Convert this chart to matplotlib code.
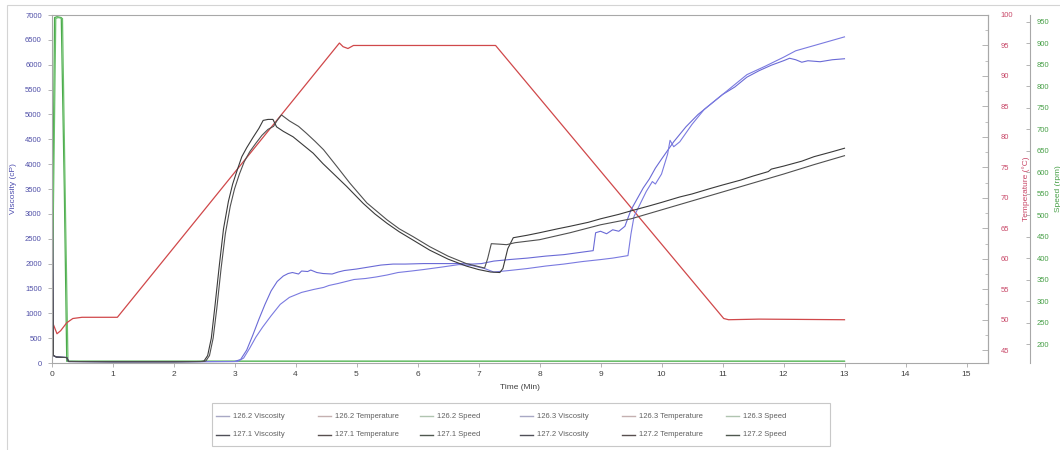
import matplotlib
matplotlib.use('Agg')
import matplotlib.pyplot as plt
from matplotlib.lines import Line2D
from matplotlib.patches import Rectangle
from matplotlib.ticker import MultipleLocator

plt.rcParams['font.family'] = ['Liberation Sans', 'DejaVu Sans']

# ---------------- data ----------------
# viscosity (cP) vs time (min)
t_1271 = [0, 0.03, 0.08, 0.25, 0.28, 1.0, 2.0, 2.45, 2.5, 2.56, 2.62, 2.68, 2.75, 2.82, 2.9, 2.97,
          3.05, 3.12, 3.2, 3.3, 3.4, 3.47, 3.55, 3.63, 3.69, 3.8, 3.96, 4.12, 4.29, 4.45, 4.62, 4.84,
          5.11, 5.3, 5.5, 5.7, 5.93, 6.2, 6.5, 6.8, 7.0, 7.2, 7.35, 7.4, 7.48, 7.57, 7.8, 8.0, 8.3,
          8.5, 8.8, 9.0, 9.3, 9.5, 9.8, 10.0, 10.3, 10.5, 10.8, 11.0, 11.3, 11.5, 11.75, 11.8, 12.0,
          12.3, 12.5, 12.8, 13.0]
v_1271 = [6900, 150, 120, 110, 30, 25, 25, 30, 40, 150, 500, 1150, 1950, 2700, 3250, 3600,
          3900, 4150, 4330, 4530, 4720, 4880, 4900, 4900, 4750, 4660, 4550, 4390, 4220, 4010, 3810, 3550,
          3210, 3000, 2810, 2640, 2470, 2270, 2090, 1950, 1880, 1830, 1820, 1900, 2300, 2520, 2570, 2620, 2700,
          2750, 2830, 2900, 2990, 3060, 3160, 3230, 3340, 3400, 3510, 3580, 3680, 3760, 3850, 3900, 3960,
          4060, 4150, 4250, 4320]

t_1272 = [0, 0.03, 0.08, 0.25, 0.28, 1.0, 2.0, 2.48, 2.53, 2.59, 2.65, 2.71, 2.78, 2.85, 2.93, 3.0,
          3.08, 3.16, 3.25, 3.35, 3.45, 3.55, 3.64, 3.7, 3.77, 3.9, 4.05, 4.18, 4.32, 4.46, 4.68, 4.89,
          5.17, 5.5, 5.7, 5.93, 6.2, 6.5, 6.8, 7.0, 7.1, 7.15, 7.21, 7.35, 7.46, 7.6, 8.0, 8.5, 9.0,
          9.5, 10.0, 10.5, 11.0, 11.5, 12.0, 12.5, 13.0]
v_1272 = [6400, 150, 120, 110, 30, 25, 25, 30, 40, 150, 500, 1100, 1900, 2600, 3150, 3500,
          3800, 4050, 4250, 4420, 4580, 4700, 4760, 4880, 4990, 4870, 4760, 4620, 4460, 4290, 3950, 3620,
          3220, 2880, 2700, 2540, 2340, 2150, 2000, 1940, 1910, 2100, 2400, 2390, 2380, 2420, 2480, 2620, 2780,
          2900, 3080, 3260, 3440, 3620, 3800, 3990, 4170]

t_1262 = [0, 0.03, 0.08, 0.25, 0.28, 1.0, 2.0, 3.0, 3.1, 3.2, 3.3, 3.4, 3.5, 3.6, 3.7, 3.8, 3.88,
          3.95, 4.05, 4.1, 4.2, 4.25, 4.35, 4.45, 4.6, 4.7, 4.8, 5.0, 5.2, 5.4, 5.6, 5.8, 6.1, 6.4,
          6.7, 6.9, 7.05, 7.25, 7.5, 7.8, 8.1, 8.4, 8.7, 8.88, 8.92, 9.0, 9.1, 9.2, 9.3, 9.4, 9.5,
          9.6, 9.7, 9.8, 9.9, 10.0, 10.2, 10.4, 10.6, 10.8, 11.0, 11.2, 11.4, 11.6, 11.8, 12.0,
          12.1, 12.2, 12.3, 12.4, 12.6, 12.8, 13.0]
v_1262 = [5800, 150, 120, 110, 30, 25, 25, 30, 70, 260, 560, 880, 1180, 1450, 1640, 1750, 1800,
          1820, 1790, 1850, 1840, 1870, 1820, 1800, 1790, 1830, 1860, 1890, 1930, 1970, 1990, 1990, 2000, 2000,
          2000, 1990, 2000, 2050, 2080, 2110, 2150, 2180, 2230, 2260, 2620, 2650, 2600, 2680, 2650, 2750, 3080,
          3300, 3520, 3700, 3920, 4100, 4450, 4750, 5000, 5200, 5400, 5550, 5750, 5880, 5990, 6080,
          6130, 6100, 6050, 6080, 6060, 6100, 6120]

t_1263 = [0, 0.03, 0.08, 0.25, 0.28, 1.0, 2.0, 3.05, 3.15, 3.25, 3.35, 3.46, 3.6, 3.75, 3.9, 4.1,
          4.3, 4.46, 4.55, 4.7, 4.96, 5.15, 5.32, 5.5, 5.68, 5.9, 6.1, 6.4, 6.68, 6.9, 7.1, 7.25, 7.5,
          7.8, 8.1, 8.4, 8.7, 9.0, 9.2, 9.45, 9.5, 9.55, 9.65, 9.75, 9.85, 9.9, 10.0, 10.1, 10.14,
          10.2, 10.3, 10.5, 10.7, 10.9, 11.1, 11.4, 11.7, 12.0, 12.2, 12.4, 12.6, 12.8, 13.0]
v_1263 = [4300, 150, 120, 110, 30, 25, 25, 30, 100, 300, 520, 720, 950, 1180, 1320, 1420,
          1480, 1520, 1560, 1600, 1680, 1700, 1730, 1770, 1820, 1850, 1880, 1930, 1980, 1960, 1900, 1830, 1860,
          1900, 1950, 1990, 2040, 2080, 2110, 2160, 2600, 2950, 3200, 3450, 3650, 3600, 3800, 4200, 4480,
          4350, 4450, 4800, 5100, 5300, 5500, 5800, 5970, 6150, 6280, 6350, 6420, 6490, 6560]

# temperature (deg C) vs time (min)
temp_time = [0, 0.09, 0.15, 0.25, 0.35, 0.5, 1.08, 4.72, 4.78, 4.86, 4.95, 7.28, 11.02, 11.1, 11.6, 13.0]
temp_vals = [50.0, 47.7, 48.2, 49.5, 50.2, 50.4, 50.4, 95.4, 94.8, 94.5, 95.0, 95.0, 50.2, 50.0, 50.1, 50.0]

# speed (rpm) vs time (min)
speed_time_a = [0, 0.05, 0.09, 0.16, 0.21, 0.25, 13.0]
speed_vals_a = [160, 960, 962, 960, 560, 160, 160]
speed_time_b = [0, 0.07, 0.11, 0.18, 0.23, 0.27, 13.0]
speed_vals_b = [160, 958, 960, 958, 500, 160, 160]

legend_labels = ['126.2 Viscosity', '126.2 Temperature', '126.2 Speed',
                 '126.3 Viscosity', '126.3 Temperature', '126.3 Speed',
                 '127.1 Viscosity', '127.1 Temperature', '127.1 Speed',
                 '127.2 Viscosity', '127.2 Temperature', '127.2 Speed']

# ---------------- figure ----------------
W, H = 1060, 450
fig = plt.figure(figsize=(W / 100, H / 100), dpi=100)
L, R, T, B = 51.5, 988, 15, 363
rect = [L / W, 1 - B / H, (R - L) / W, (B - T) / H]

ax_v = fig.add_axes(rect)
ax_t = ax_v.twinx()
ax_s = ax_v.twinx()
ax_s.set_zorder(1)
ax_t.set_zorder(2)
ax_v.set_zorder(3)
for a in (ax_v, ax_t, ax_s):
    a.patch.set_visible(False)

blue = '#6a6ad6'
black = '#3a3a3a'
red = '#d0484a'
green = '#4caa4c'
spine_c = '#a8a8a8'

# speed
ax_s.plot(speed_time_a, speed_vals_a, color=green, lw=0.9)
ax_s.plot(speed_time_b, speed_vals_b, color='#6cc06c', lw=0.9)
# temperature
ax_t.plot(temp_time, temp_vals, color=red, lw=0.9)
# viscosity
ax_v.plot(t_1262, v_1262, color=blue, lw=0.8)
ax_v.plot(t_1263, v_1263, color='#7a7ae0', lw=0.8)
ax_v.plot(t_1271, v_1271, color=black, lw=0.8)
ax_v.plot(t_1272, v_1272, color='#505050', lw=0.8)

# axes ranges
ax_v.set_xlim(0, (R - L) / 61.0)
ax_v.set_ylim(0, 7000)
ax_t.set_ylim(42.9, 100)
ax_s.set_ylim(156, 966)

ax_v.set_xticks(range(16))
ax_v.set_yticks(range(0, 7001, 500))
ax_t.set_yticks(range(45, 101, 5))
ax_t.yaxis.set_minor_locator(MultipleLocator(2.5))
ax_s.set_yticks(range(200, 951, 50))

for sp in ax_v.spines.values():
    sp.set_color(spine_c)
    sp.set_linewidth(0.8)
for a in (ax_t, ax_s):
    for k in ('left', 'top', 'bottom'):
        a.spines[k].set_visible(False)
ax_t.spines['right'].set_color(spine_c)
ax_t.spines['right'].set_linewidth(0.8)
ax_s.spines['right'].set_position(('axes', (1030 - L) / (R - L)))
ax_s.spines['right'].set_color(spine_c)
ax_s.spines['right'].set_linewidth(0.8)

ax_v.tick_params(axis='x', direction='out', length=3, width=0.6, color=spine_c,
                 labelsize=6, labelcolor='#404040', pad=3)
ax_v.tick_params(axis='y', direction='out', length=3, width=0.6, color=spine_c,
                 labelsize=5.5, labelcolor='#5050a8', pad=4)
ax_t.tick_params(axis='y', which='major', direction='in', length=4, width=0.6, color=spine_c,
                 labelsize=5.5, labelcolor='#c84868', pad=9)
ax_t.tick_params(axis='y', which='minor', direction='in', length=2, width=0.5, color=spine_c)
ax_s.tick_params(axis='y', direction='in', length=3, width=0.6, color=spine_c,
                 labelsize=5.5, labelcolor='#48a048', pad=5)

ax_v.set_xlabel('Time (Min)', fontsize=6, color='#404040', labelpad=4)
ax_v.set_ylabel('Viscosity (cP)', fontsize=6, color='#5050b0')
ax_v.yaxis.set_label_coords(-(51.5 - 17) / (R - L), 0.5)
ax_t.set_ylabel('Temperature (°C)', fontsize=6, color='#c84868', rotation=90)
ax_t.yaxis.set_label_coords((1022 - L) / (R - L), 0.5)
ax_s.set_ylabel('Speed (rpm)', fontsize=6, color='#48a048', rotation=90)
ax_s.yaxis.set_label_coords((1055 - L) / (R - L), 0.5)

# outer border of the chart
fig.add_artist(Rectangle((7 / W, -0.05), 1.1, (1 - 5 / H) + 0.05, transform=fig.transFigure,
                         fill=False, ec='#d4d4d4', lw=0.8))

# ---------------- legend (drawn in fixed columns) ----------------
fig.add_artist(Rectangle((212 / W, 1 - 446 / H), (830 - 212) / W, (446 - 403) / H,
                         transform=fig.transFigure, fill=False, ec='#c8c8c8', lw=0.8))
col_x = [216, 318, 420, 520, 622, 726]
row_y = [416, 435]
leg_cols = ['#a8a8c4', '#c4b0b0', '#b0c4b0', '#a8a8c4', '#c4b0b0', '#b0c4b0',
            '#505058', '#585050', '#505850', '#505058', '#585050', '#505850']
for i, lab in enumerate(legend_labels):
    r, c = divmod(i, 6)
    x0 = col_x[c]
    y0 = 1 - row_y[r] / H
    fig.add_artist(Line2D([x0 / W, (x0 + 13) / W], [y0, y0], transform=fig.transFigure,
                          color=leg_cols[i], lw=1.0))
    fig.text((x0 + 17) / W, y0, lab, fontsize=5.5, color='#606060', va='center', ha='left')

fig.savefig('out.png', dpi=100, facecolor='white')
